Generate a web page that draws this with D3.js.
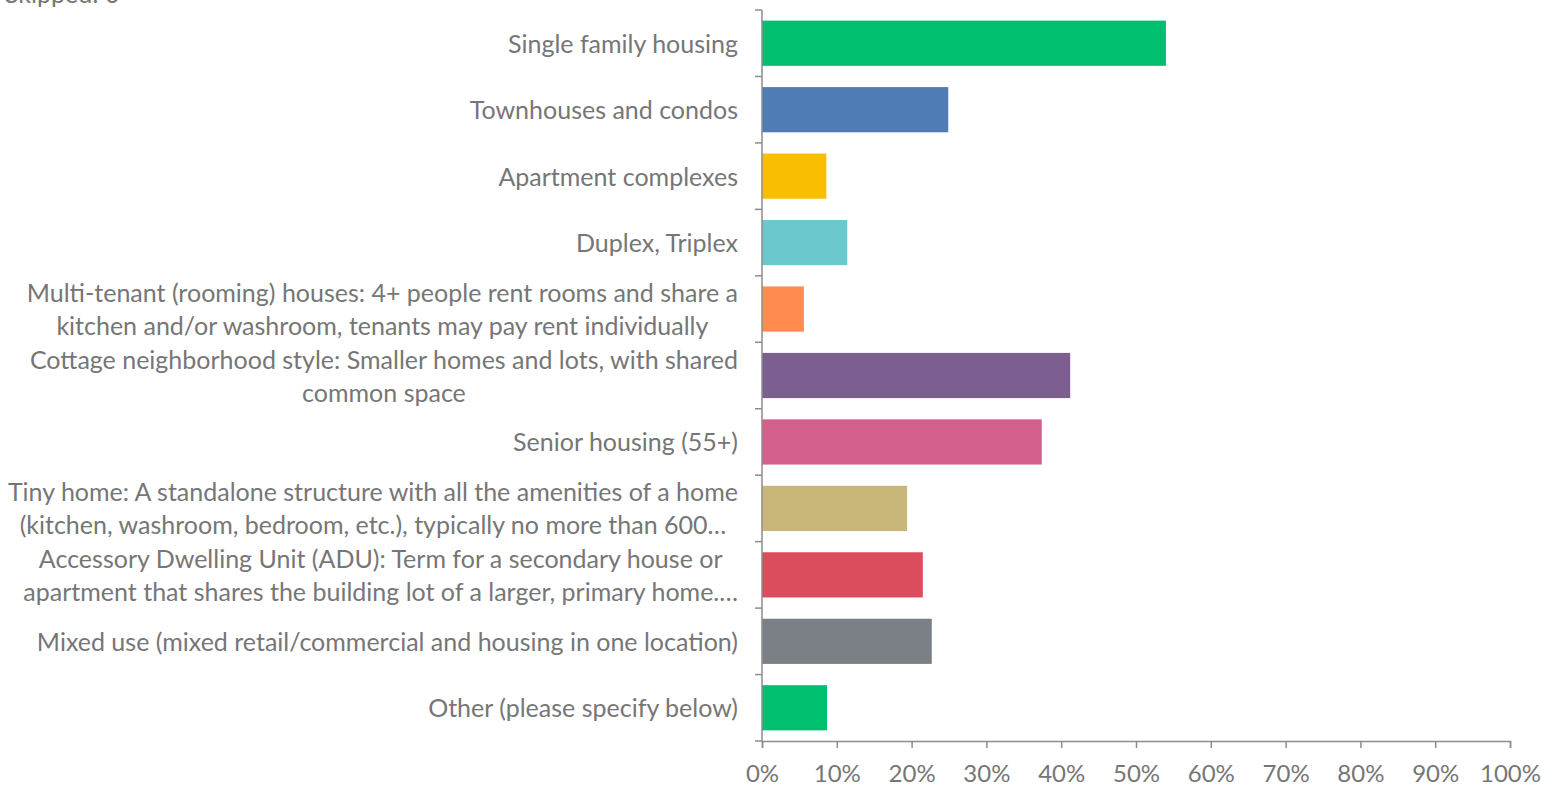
<!DOCTYPE html>
<html><head><meta charset="utf-8">
<script src="https://cdn.jsdelivr.net/npm/d3@7"></script>
<style>body{margin:0;background:#fff;} svg{display:block;}</style>
</head><body>
<svg id="chart" width="1542" height="785"></svg>
<script>
const categories = [
  ["Single family housing"],
  ["Townhouses and condos"],
  ["Apartment complexes"],
  ["Duplex, Triplex"],
  ["Multi-tenant (rooming) houses: 4+ people rent rooms and share a", "kitchen and/or washroom, tenants may pay rent individually"],
  ["Cottage neighborhood style: Smaller homes and lots, with shared", "common space"],
  ["Senior housing (55+)"],
  ["Tiny home: A standalone structure with all the amenities of a home", "(kitchen, washroom, bedroom, etc.), typically no more than 600…"],
  ["Accessory Dwelling Unit (ADU): Term for a secondary house or", "apartment that shares the building lot of a larger, primary home.…"],
  ["Mixed use (mixed retail/commercial and housing in one location)"],
  ["Other (please specify below)"]
];
const values = [54.0, 24.9, 8.6, 11.4, 5.6, 41.2, 37.4, 19.4, 21.5, 22.7, 8.7];
const colors = ["#00BF6F","#507CB6","#F9BE00","#6BC8CD","#FF8B4F","#7D5E90","#D35F8D","#C9B77A","#DB4D5C","#7A8085","#00BF6F"];
const xTicks = [0,10,20,30,40,50,60,70,80,90,100];

(function(){
const svg = d3.select("#chart");
const font = "Lato, 'Open Sans', sans-serif";
const textColor = "#767676";
const axisColor = "#8c8c8c";
const pl = 762, pr = 1510, pt = 10, pb = 741;

const x = d3.scaleLinear().domain([0,100]).range([pl,pr]);
const y = d3.scaleBand().domain(d3.range(categories.length)).range([pt,pb]).paddingInner(0.32).paddingOuter(0.16);

svg.append("text").attr("x",5).attr("y",3).attr("fill",textColor)
  .style("font-family",font).style("font-size","25px").text("Skipped: 0");

svg.selectAll("rect.bar").data(values).enter().append("rect")
  .attr("class","bar")
  .attr("x", x(0))
  .attr("y", (d,i)=>y(i))
  .attr("width", d=>x(d)-x(0))
  .attr("height", y.bandwidth())
  .attr("fill", (d,i)=>colors[i]);

const step = (pb-pt)/categories.length;
const g = svg.append("g");
g.append("line").attr("x1",pl).attr("x2",pl).attr("y1",pt).attr("y2",pb)
  .attr("stroke",axisColor).attr("stroke-width",1.5);
d3.range(categories.length+1).forEach(i=>{
  g.append("line").attr("x1",pl-7).attr("x2",pl).attr("y1",pt+i*step).attr("y2",pt+i*step)
   .attr("stroke",axisColor).attr("stroke-width",1.5);
});

const xa = svg.append("g").attr("transform",`translate(0,${pb})`)
  .call(d3.axisBottom(x).tickValues(xTicks).tickSize(7).tickFormat(d=>d+"%"));
xa.select(".domain").attr("stroke",axisColor).attr("stroke-width",1.5);
xa.selectAll(".tick line").attr("stroke",axisColor).attr("stroke-width",1.5);
xa.selectAll(".tick text").attr("fill",textColor).attr("dy",null).attr("y",40.5)
  .style("font-family",font).style("font-size","24px");

const lineH = 33;
categories.forEach((lines,i)=>{
  const cy = y(i) + y.bandwidth()/2;
  const t = svg.append("text").attr("fill",textColor)
    .style("font-family",font).style("font-size","25px").attr("text-anchor","middle");
  const spans = lines.map((l,j)=> t.append("tspan").attr("y", cy + (j-(lines.length-1)/2)*lineH).attr("dy","0.38em").text(l));
  let maxW = 0;
  spans.forEach(s=>{ maxW = Math.max(maxW, s.node().getComputedTextLength()); });
  const cx = 738 - maxW/2;
  spans.forEach(s=>s.attr("x",cx));
});
})();
</script>
</body></html>
